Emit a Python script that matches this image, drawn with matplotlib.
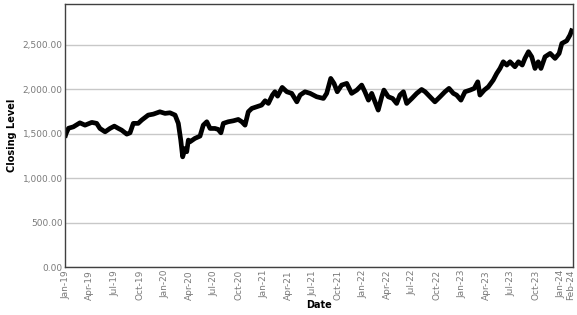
import numpy as np
import pandas as pd
import matplotlib
matplotlib.use("Agg")
import matplotlib.pyplot as plt
import matplotlib.dates as mdates
from matplotlib.ticker import FuncFormatter

# Closing level (approximate)
dates = [
    '2019-01-01', '2019-01-03', '2019-01-12', '2019-01-30', '2019-02-23', '2019-03-14', '2019-04-08',
    '2019-04-26', '2019-05-08', '2019-05-27', '2019-06-14', '2019-06-30', '2019-07-15',
    '2019-07-27', '2019-08-15', '2019-08-27', '2019-09-08', '2019-09-26', '2019-10-09',
    '2019-11-02', '2019-11-21', '2019-12-15', '2020-01-03', '2020-01-21', '2020-02-09',
    '2020-02-21', '2020-03-01', '2020-03-08', '2020-03-17', '2020-03-23', '2020-03-29',
    '2020-04-04', '2020-04-22', '2020-05-11', '2020-05-23', '2020-06-05', '2020-06-17',
    '2020-07-05', '2020-07-17', '2020-07-27', '2020-08-05', '2020-08-23', '2020-09-11',
    '2020-09-29', '2020-10-12', '2020-10-24', '2020-11-05', '2020-11-18', '2020-12-06',
    '2020-12-24', '2021-01-06', '2021-01-18', '2021-02-02', '2021-02-11', '2021-02-21',
    '2021-03-10', '2021-03-27', '2021-04-14', '2021-05-03', '2021-05-15', '2021-06-02',
    '2021-06-21', '2021-07-15', '2021-08-09', '2021-08-21', '2021-09-05', '2021-09-17',
    '2021-09-29', '2021-10-15', '2021-11-03', '2021-11-21', '2021-12-10', '2021-12-28',
    '2022-01-09', '2022-01-22', '2022-02-03', '2022-02-15', '2022-02-27', '2022-03-12',
    '2022-03-20', '2022-04-05', '2022-04-21', '2022-05-06', '2022-05-18', '2022-05-31',
    '2022-06-12', '2022-07-01', '2022-07-19', '2022-08-06', '2022-08-19', '2022-09-06',
    '2022-09-24', '2022-10-13', '2022-10-31', '2022-11-15', '2022-12-01', '2022-12-13',
    '2022-12-29', '2023-01-13', '2023-02-01', '2023-02-16', '2023-03-01', '2023-03-09',
    '2023-03-25', '2023-04-09', '2023-04-27', '2023-05-10', '2023-05-22', '2023-06-03',
    '2023-06-16', '2023-06-28', '2023-07-16', '2023-07-29', '2023-08-12', '2023-08-22',
    '2023-09-04', '2023-09-16', '2023-09-28', '2023-10-10', '2023-10-20', '2023-11-04',
    '2023-11-23', '2023-12-11', '2023-12-26', '2024-01-05', '2024-01-23', '2024-02-04',
    '2024-02-10',
]
closing = [
    1480, 1500, 1560, 1576, 1621, 1595, 1626,
    1615, 1558, 1520, 1558, 1584, 1558,
    1539, 1494, 1509, 1615, 1615, 1652,
    1708, 1719, 1745, 1727, 1734, 1708,
    1615, 1427, 1239, 1333, 1296, 1427,
    1408, 1446, 1472, 1595, 1633, 1558,
    1558, 1547, 1509, 1615, 1633, 1644,
    1659, 1633, 1595, 1745, 1783, 1801,
    1820, 1869, 1839, 1933, 1970, 1921,
    2019, 1970, 1952, 1857, 1933, 1970,
    1952, 1914, 1895, 1952, 2120, 2064,
    1970, 2045, 2064, 1952, 1989, 2045,
    1970, 1876, 1952, 1857, 1764, 1914,
    1989, 1914, 1895, 1839, 1933, 1970,
    1839, 1895, 1952, 1996, 1970, 1914,
    1857, 1914, 1970, 2008, 1952, 1933,
    1876, 1970, 1989, 2008, 2082, 1933,
    1989, 2026, 2101, 2176, 2232, 2307,
    2270, 2307, 2251, 2307, 2270, 2345,
    2420, 2363, 2232, 2307, 2232, 2363,
    2401, 2345, 2401, 2513, 2543, 2607,
    2655,
]
tick_dates = ['2019-01-01', '2019-04-01', '2019-07-01', '2019-10-01',
              '2020-01-01', '2020-04-01', '2020-07-01', '2020-10-01',
              '2021-01-01', '2021-04-01', '2021-07-01', '2021-10-01',
              '2022-01-01', '2022-04-01', '2022-07-01', '2022-10-01',
              '2023-01-01', '2023-04-01', '2023-07-01', '2023-10-01',
              '2024-01-01', '2024-02-08']
y_ticks = [0, 500, 1000, 1500, 2000, 2500]

x = pd.to_datetime(dates)

fig = plt.figure(figsize=(5.77, 3.15), dpi=100)
ax = fig.add_axes([0.1135, 0.152, 0.8795, 0.835])

ax.plot(x, closing, '-', color='black', linewidth=3.4)

ax.set_xlim(pd.Timestamp('2019-01-01'), pd.Timestamp('2024-02-15'))
ax.set_ylim(0, 2955)
ax.set_yticks(y_ticks)
ax.yaxis.set_major_formatter(FuncFormatter(lambda v, p: f'{v:,.2f}'))
ax.set_xticks(pd.to_datetime(tick_dates))
ax.xaxis.set_major_formatter(mdates.DateFormatter('%b-%y'))

ax.grid(axis='y', color='#c8c8c8', linewidth=1)
ax.set_axisbelow(True)
for s in ax.spines.values():
    s.set_color('#404040')
    s.set_linewidth(1)

ax.tick_params(axis='both', length=0, labelsize=6.5, labelcolor='#7a7a7a', pad=2)
plt.setp(ax.get_xticklabels(), rotation=90)

ax.set_xlabel('Date', fontsize=7, fontweight='bold', labelpad=0)
ax.set_ylabel('Closing Level', fontsize=7, fontweight='bold', labelpad=4)

fig.savefig('out.png', dpi=100)
